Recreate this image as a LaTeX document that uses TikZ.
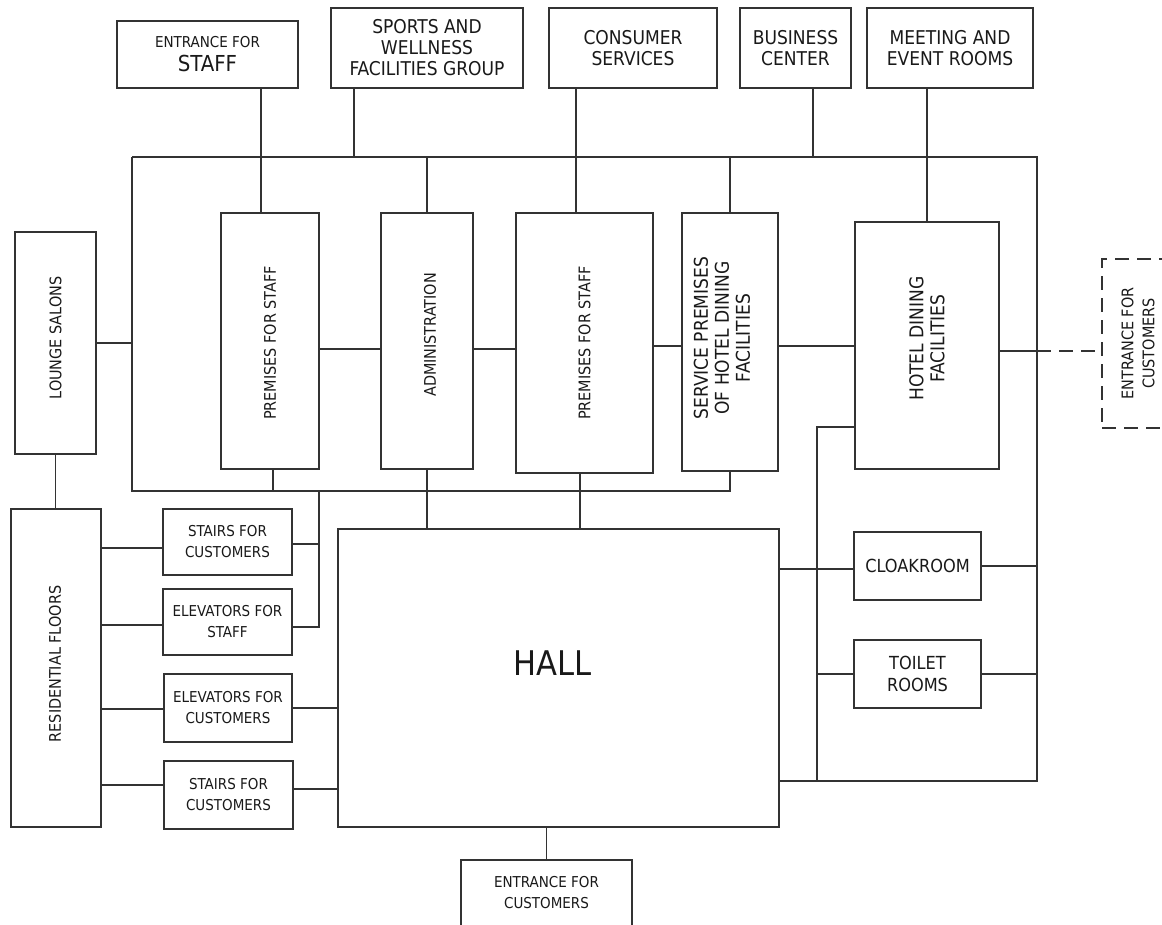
\documentclass[tikz,border=0pt]{standalone}
\usepackage{fontspec}
\setmainfont{DejaVu Sans Condensed}

\begin{document}
\begin{tikzpicture}[x=1pt, y=-1pt, line width=1.3pt, color=black!80,
    room/.style={draw, inner sep=1pt, align=center, text=black!90, font=\fontsize{19}{21}\selectfont},
    small/.style={font=\fontsize{15}{21}\selectfont},
    vtext/.style={rotate=90, align=center, text=black!90, font=\fontsize{16}{21}\selectfont}]
    \useasboundingbox (0,0) rectangle (1162,924);
    \clip (0,0) rectangle (1162,924);
    \node[room, minimum width=181, minimum height=67] (entr_staff) at (207.5,54.5) {{\fontsize{15}{17}\selectfont ENTRANCE FOR}\\[3pt]{\fontsize{22}{24}\selectfont STAFF}};
    \node[room, minimum width=192, minimum height=80] (sports) at (427,48) {SPORTS AND\\WELLNESS\\FACILITIES GROUP};
    \node[room, minimum width=168, minimum height=80] (consumer) at (633,48) {CONSUMER\\SERVICES};
    \node[room, minimum width=111, minimum height=80] (business) at (795.5,48) {BUSINESS\\CENTER};
    \node[room, minimum width=166, minimum height=80] (meeting) at (950,48) {MEETING AND\\EVENT ROOMS};
    \node[room, minimum width=81, minimum height=222] (lounge) at (55.5,343) {};
    \node[room, minimum width=98, minimum height=256] (staff_a) at (270,341) {};
    \node[room, minimum width=92, minimum height=256] (admin) at (427,341) {};
    \node[room, minimum width=137, minimum height=260] (staff_b) at (584.5,343) {};
    \node[room, minimum width=96, minimum height=258] (service) at (730,342) {};
    \node[room, minimum width=144, minimum height=247] (dining) at (927,345.5) {};
    \node[room, dashed, dash pattern=on 14pt off 8pt, minimum width=72, minimum height=169] (entr_cust_r) at (1138,343.5) {};
    \node[room, minimum width=90, minimum height=318] (resid) at (56,668) {};
    \node[room, small, minimum width=129, minimum height=66] (stairs_a) at (227.5,542) {STAIRS FOR\\CUSTOMERS};
    \node[room, small, minimum width=129, minimum height=66] (elev_staff) at (227.5,622) {ELEVATORS FOR\\STAFF};
    \node[room, small, minimum width=128, minimum height=68] (elev_cust) at (228,708) {ELEVATORS FOR\\CUSTOMERS};
    \node[room, small, minimum width=129, minimum height=68] (stairs_b) at (228.5,795) {STAIRS FOR\\CUSTOMERS};
    \node[room, minimum width=441, minimum height=298] (hall) at (558.5,678) {};
    \node[room, font=\fontsize{18}{22}\selectfont, minimum width=127, minimum height=68] (cloak) at (917.5,566) {CLOAKROOM};
    \node[room, font=\fontsize{18}{22}\selectfont, minimum width=127, minimum height=68] (toilet) at (917.5,674) {TOILET\\ROOMS};
    \node[room, small, minimum width=171, minimum height=66] (entr_cust_b) at (546.5,893) {ENTRANCE FOR\\CUSTOMERS};
    \node[vtext] (lounge_txt) at ([yshift=5pt]lounge.center) {LOUNGE SALONS};
    \node[vtext] (staff_a_txt) at ([yshift=-2pt]staff_a.center) {PREMISES FOR STAFF};
    \node[vtext] (admin_txt) at ([xshift=3pt,yshift=6pt]admin.center) {ADMINISTRATION};
    \node[vtext] (staff_b_txt) at (staff_b.center) {PREMISES FOR STAFF};
    \node[vtext, font=\fontsize{19}{21}\selectfont] (service_txt) at ([xshift=-8pt,yshift=4pt]service.center) {SERVICE PREMISES\\OF HOTEL DINING\\FACILITIES};
    \node[vtext, font=\fontsize{19}{21}\selectfont] (dining_txt) at ([yshift=7pt]dining.center) {HOTEL DINING\\FACILITIES};
    \node[vtext] (entr_cust_r_txt) at (entr_cust_r.center) {ENTRANCE FOR\\CUSTOMERS};
    \node[vtext] (resid_txt) at ([xshift=-1pt,yshift=4pt]resid.center) {RESIDENTIAL FLOORS};
    \node[text=black!90, font=\fontsize{34}{40}\selectfont] (hall_txt) at ([xshift=-6pt,yshift=15pt]hall.center) {HALL};
    \coordinate (bus_nw) at (132,157);
    \coordinate (bus_ne) at (1037,157);
    \coordinate (bus_sw) at (132,491);
    \coordinate (bus_se) at (730,491);
    \coordinate (side_se) at (1037,781);
    \coordinate (inner_s) at (817,781);
    \coordinate (lift_n) at (319,491);
    \coordinate (lift_s) at (319,627);
    \draw (bus_nw) -- (bus_ne) -- (side_se) -- (hall.east |- side_se);
    \draw (bus_nw) -- (bus_sw) -- (bus_se) -- (service.south);
    \draw ([xshift=53.5pt]entr_staff.south) -- ([xshift=-9pt]staff_a.north);
    \draw ([xshift=-73pt]sports.south) -- ([xshift=-73pt]sports.south |- bus_nw);
    \draw ([xshift=-57pt]consumer.south) -- ([xshift=-8.5pt]staff_b.north);
    \draw ([xshift=17.5pt]business.south) -- ([xshift=17.5pt]business.south |- bus_nw);
    \draw ([xshift=-23pt]meeting.south) -- (dining.north);
    \draw (admin.north) -- (admin.north |- bus_nw);
    \draw (service.north) -- (service.north |- bus_nw);
    \draw (lounge.east) -- (lounge.east -| bus_nw);
    \draw (lounge.south) -- (lounge.south |- resid.north);
    \draw ([yshift=-8pt]staff_a.east) -- ([yshift=-8pt]staff_a.east -| admin.west);
    \draw ([yshift=-8pt]admin.east) -- ([yshift=-8pt]admin.east -| staff_b.west);
    \draw ([yshift=-3pt]staff_b.east) -- ([yshift=-3pt]staff_b.east -| service.west);
    \draw ([yshift=-4pt]service.east) -- ([yshift=-4pt]service.east -| dining.west);
    \draw ([yshift=-5.5pt]dining.east) -- ([yshift=-5.5pt]dining.east -| bus_ne);
    \draw[dashed, dash pattern=on 14pt off 8pt] ([yshift=-5.5pt]dining.east -| bus_ne) -- ([yshift=-5.5pt]dining.east -| entr_cust_r.west);
    \draw ([yshift=-81.5pt]dining.west) -| (inner_s);
    \draw ([xshift=3pt]staff_a.south) -- ([xshift=3pt]staff_a.south |- bus_sw);
    \draw (admin.south) -- (admin.south |- hall.north);
    \draw ([xshift=-4.5pt]staff_b.south) -- ([xshift=-4.5pt]staff_b.south |- hall.north);
    \draw (lift_n) -- (lift_s) -- (lift_s -| elev_staff.east);
    \draw ([yshift=-2pt]stairs_a.east) -- ([yshift=-2pt]stairs_a.east -| lift_n);
    \draw ([yshift=-6pt]stairs_a.west -| resid.east) -- ([yshift=-6pt]stairs_a.west);
    \draw ([yshift=-3pt]elev_staff.west -| resid.east) -- ([yshift=-3pt]elev_staff.west);
    \draw ([yshift=-1pt]elev_cust.west -| resid.east) -- ([yshift=-1pt]elev_cust.west);
    \draw (elev_cust.east) -- (elev_cust.east -| hall.west);
    \draw ([yshift=10pt]stairs_b.west -| resid.east) -- ([yshift=10pt]stairs_b.west);
    \draw ([yshift=6pt]stairs_b.east) -- ([yshift=6pt]stairs_b.east -| hall.west);
    \draw ([yshift=-3pt]cloak.west -| hall.east) -- ([yshift=-3pt]cloak.west);
    \draw (cloak.east) -- (cloak.east -| bus_ne);
    \draw (toilet.west -| inner_s) -- (toilet.west);
    \draw (toilet.east) -- (toilet.east -| bus_ne);
    \draw (entr_cust_b.north) -- (entr_cust_b.north |- hall.south);
\end{tikzpicture}
\end{document}
